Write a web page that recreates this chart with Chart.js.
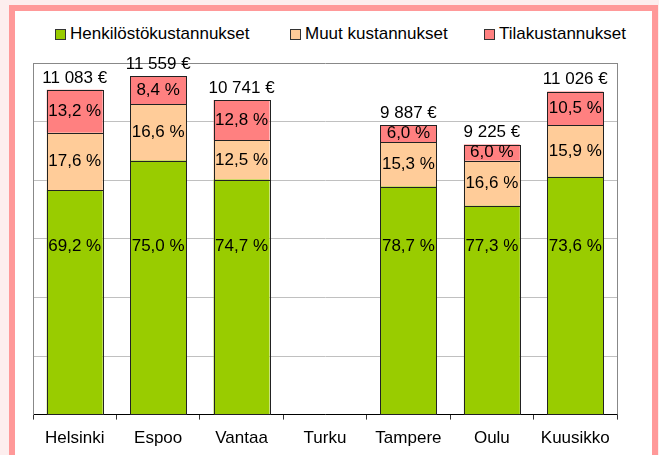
<!DOCTYPE html>
<html>
<head>
<meta charset="utf-8">
<script src="https://cdn.jsdelivr.net/npm/chart.js@4.4.1/dist/chart.umd.min.js"></script>
<style>
  html, body { margin: 0; padding: 0; }
  body {
    width: 659px; height: 455px; overflow: hidden; position: relative;
    background: #fdeeee;
    font-family: "Liberation Sans", Arial, sans-serif;
  }
  .frame {
    position: absolute; left: 9px; top: 5px;
    width: 637px; height: 460px;
    border: 6px solid #ff9999; border-bottom: none;
    background: #fff;
  }
  .legend { position: absolute; top: 24px; left: 0; width: 659px; height: 20px; }
  .legend .item { position: absolute; top: 0; display: flex; align-items: center; font-size: 17px; color: #000; white-space: nowrap; }
  .legend .box { width: 9px; height: 9px; border: 1px solid #333; margin-right: 4px; }
  #wrap { position: absolute; left: 0; top: 0; width: 659px; height: 455px; }
</style>
</head>
<body>
<div class="frame"></div>
<div class="legend" id="legend"></div>
<div id="wrap"><canvas id="chart"></canvas></div>
<script>
// Kategoriat ja arvot
const categories = ['Helsinki', 'Espoo', 'Vantaa', 'Turku', 'Tampere', 'Oulu', 'Kuusikko'];
const totals = [11083, 11559, 10741, null, 9887, 9225, 11026];
const staffPct = [69.2, 75.0, 74.7, null, 78.7, 77.3, 73.6];
const otherPct = [17.6, 16.6, 12.5, null, 15.3, 16.6, 15.9];
const premisesPct = [13.2, 8.4, 12.8, null, 6.0, 6.0, 10.5];
const seriesNames = ['Henkilöstökustannukset', 'Muut kustannukset', 'Tilakustannukset'];
const yMax = 12000;
const yStep = 2000;

const COLORS = ['#99cc00', '#ffcc99', '#ff8080'];
const LEGEND_X = [55, 290, 484];
const STAFF_LABEL_AT = 5750; // henkilöstön prosentit samalla rivillä

const fmtPct = (p) => p.toFixed(1).replace('.', ',') + ' %';
const fmtEur = (n) => String(n).replace(/\B(?=(\d{3})+(?!\d))/g, ' ') + ' €';

// euro-osuudet prosenteista
const euros = (pcts) => pcts.map((p, i) => (p == null || totals[i] == null) ? null : totals[i] * p / 100);

// HTML legend
const legendEl = document.getElementById('legend');
seriesNames.forEach((name, i) => {
  const item = document.createElement('div');
  item.className = 'item';
  item.style.left = LEGEND_X[i] + 'px';
  item.innerHTML = `<span class="box" style="background:${COLORS[i]}"></span><span>${name}</span>`;
  legendEl.appendChild(item);
});

const FONT = '17px "Liberation Sans", Arial, sans-serif';

const barLabels = {
  id: 'barLabels',
  beforeDatasetsDraw(chart) {
    const { ctx, chartArea } = chart;
    ctx.save();
    ctx.strokeStyle = '#888';
    ctx.lineWidth = 1;
    ctx.beginPath();
    ctx.moveTo(Math.round(chartArea.right) + 0.5, chartArea.top);
    ctx.lineTo(Math.round(chartArea.right) + 0.5, chartArea.bottom);
    ctx.stroke();
    ctx.restore();
  },
  afterDatasetsDraw(chart) {
    const ctx = chart.ctx;
    const yScale = chart.scales.y;
    ctx.save();
    // terävät reunaviivat segmenteille
    ctx.strokeStyle = '#222';
    ctx.lineWidth = 1;
    chart.data.datasets.forEach((ds, di) => {
      chart.getDatasetMeta(di).data.forEach((bar, i) => {
        if (ds.data[i] == null) return;
        const l = Math.round(bar.x - bar.width / 2);
        const r = Math.round(bar.x + bar.width / 2);
        const t = Math.round(bar.y);
        const b = Math.round(bar.base);
        ctx.strokeRect(l + 0.5, t + 0.5, r - l, b - t);
      });
    });
    ctx.font = FONT;
    ctx.fillStyle = '#000';
    ctx.textAlign = 'center';
    ctx.textBaseline = 'middle';
    chart.data.datasets.forEach((ds, di) => {
      chart.getDatasetMeta(di).data.forEach((bar, i) => {
        if (ds.pct[i] == null) return;
        const y = di === 0 ? yScale.getPixelForValue(STAFF_LABEL_AT) : (bar.y + bar.base) / 2;
        ctx.fillText(fmtPct(ds.pct[i]), bar.x, y);
      });
    });
    chart.getDatasetMeta(2).data.forEach((bar, i) => {
      if (totals[i] == null) return;
      ctx.fillText(fmtEur(totals[i]), bar.x, bar.y - 12);
    });
    ctx.restore();
  }
};

const pctLists = [staffPct, otherPct, premisesPct];

new Chart(document.getElementById('chart'), {
  type: 'bar',
  data: {
    labels: categories,
    datasets: seriesNames.map((name, i) => ({
      label: name,
      data: euros(pctLists[i]),
      pct: pctLists[i],
      backgroundColor: COLORS[i],
      borderWidth: 0,
      barPercentage: 0.67,
      categoryPercentage: 1.0
    }))
  },
  options: {
    responsive: true,
    maintainAspectRatio: false,
    animation: false,
    layout: { padding: { left: 33, right: 42, top: 63, bottom: -3 } },
    plugins: {
      legend: { display: false },
      tooltip: { enabled: false }
    },
    scales: {
      x: {
        stacked: true,
        offset: true,
        grid: { drawOnChartArea: false, drawTicks: true, tickLength: 5, color: '#333', offset: true },
        border: { color: '#000', width: 1 },
        ticks: { color: '#000', font: { family: '"Liberation Sans", Arial, sans-serif', size: 17 }, padding: 9 }
      },
      y: {
        stacked: true,
        min: 0,
        max: yMax,
        ticks: { display: false, stepSize: yStep },
        grid: {
          drawTicks: false,
          color: (c) => c.tick && c.tick.value === yMax ? '#888' : '#c0c0c0'
        },
        border: { color: '#888', width: 1 }
      }
    }
  },
  plugins: [barLabels]
});
</script>
</body>
</html>
